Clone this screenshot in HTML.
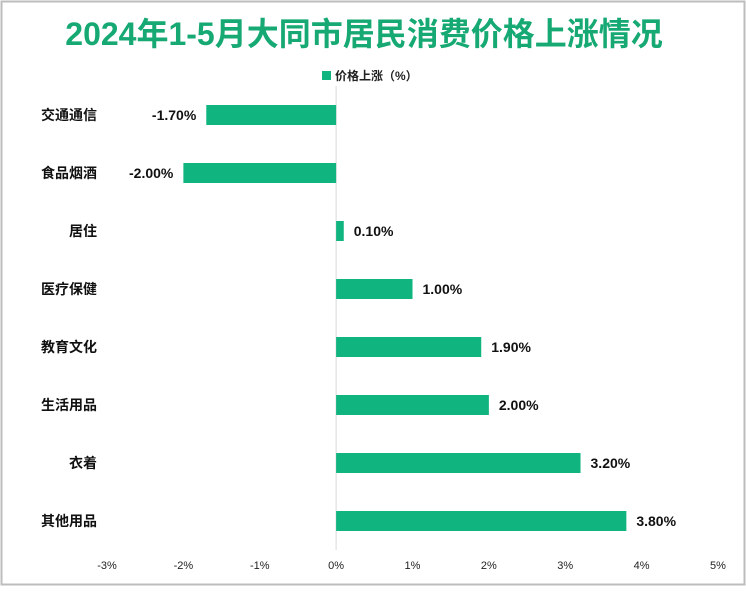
<!DOCTYPE html>
<html><head><meta charset="utf-8"><style>
body{margin:0;background:#fff;}
#c{position:relative;width:746px;height:586px;font-family:"Liberation Sans","Noto Sans CJK SC",sans-serif;}
</style></head><body>
<div id="c">
<svg id="s" width="746" height="586" xmlns="http://www.w3.org/2000/svg">
<rect x="1.5" y="1.5" width="743" height="583" fill="#fff" stroke="#bdbdbd" stroke-width="2"/>
<text x="364" y="45" text-anchor="middle" font-size="32" font-weight="bold" fill="#17a974" font-family="Liberation Sans, Noto Sans CJK SC, sans-serif">2024年1-5月大同市居民消费价格上涨情况</text>
<rect x="322" y="71" width="9" height="9" fill="#10b47f"/>
<text x="335" y="80" font-size="12" font-weight="bold" fill="#222" font-family="Liberation Sans, Noto Sans CJK SC, sans-serif">价格上涨（%）</text>
<g id="g"></g>
</svg>
</div>
<script>
const categories=["交通通信","食品烟酒","居住","医疗保健","教育文化","生活用品","衣着","其他用品"];
const values=[-1.7,-2.0,0.1,1.0,1.9,2.0,3.2,3.8];
const ticks=[-3,-2,-1,0,1,2,3,4,5];
const NS="http://www.w3.org/2000/svg";
const g=document.getElementById('g');
const x0=107,x1=718,vmin=-3,vmax=5;
const xs=v=>x0+(v-vmin)/(vmax-vmin)*(x1-x0);
const plotTop=86,n=categories.length,band=58,plotBottom=plotTop+band*n;
const ys=i=>plotTop+band*(i+0.5);
function mk(t,a){const e=document.createElementNS(NS,t);for(const k in a)e.setAttribute(k,a[k]);g.appendChild(e);return e;}
const zl=mk('line',{x1:xs(0),x2:xs(0),y1:plotTop,y2:plotBottom,stroke:'#d9d9d9','stroke-width':1});


ticks.forEach(t=>{
  const e=mk('text',{x:xs(t),y:569,'text-anchor':'middle','font-size':11,fill:'#222'});
  e.textContent=t+'%';
  
  
});
categories.forEach((c,i)=>{
  const v=values[i],y=ys(i),h=20;
  const b=mk('rect',{x:Math.min(xs(0),xs(v)),y:y-h/2,width:Math.abs(xs(v)-xs(0)),height:h,fill:'#10b47f'});
  
  
  const l=mk('text',{x:97,y:y+5,'text-anchor':'end','font-size':14,'font-weight':'bold',fill:'#111','font-family':'Liberation Sans, Noto Sans CJK SC, sans-serif'});
  l.textContent=c;
  
  
  const neg=v<0;
  const vl=mk('text',{x:neg?xs(v)-10:xs(v)+10,y:y+5,'text-anchor':neg?'end':'start','font-size':14,'font-weight':'bold',fill:'#111'});
  vl.textContent=v.toFixed(2)+'%';
  
  
});
</script>
</body></html>
